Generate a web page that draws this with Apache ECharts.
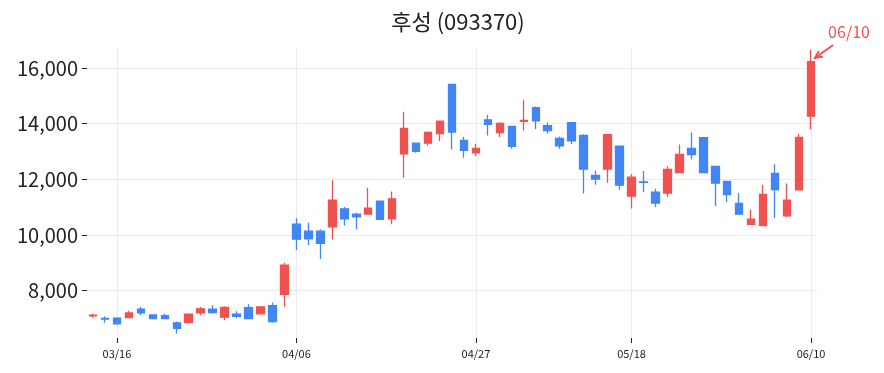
<!DOCTYPE html>
<html>
<head>
<meta charset="utf-8">
<script src="https://cdn.jsdelivr.net/npm/echarts@6/dist/echarts.min.js"></script>
<style>
  html, body { margin: 0; padding: 0; background: #fff; }
  #chart { width: 884px; height: 373px; }
</style>
</head>
<body>
<div id="chart"></div>
<script>
// ------------------------------------------------------------
// Data
// ------------------------------------------------------------
const dates = [
  "03/12", "03/13", "03/16", "03/17", "03/18", "03/19", "03/20", "03/23", "03/24", "03/25",
  "03/26", "03/27", "03/30", "03/31", "04/01", "04/02", "04/03", "04/06", "04/07", "04/08",
  "04/09", "04/10", "04/13", "04/14", "04/15", "04/16", "04/17", "04/20", "04/21", "04/22",
  "04/23", "04/24", "04/27", "04/28", "04/29", "04/30", "05/04", "05/06", "05/07", "05/08",
  "05/11", "05/12", "05/13", "05/14", "05/15", "05/18", "05/19", "05/20", "05/21", "05/22",
  "05/25", "05/26", "05/27", "05/28", "05/29", "06/01", "06/02", "06/03", "06/04", "06/05",
  "06/10",
];
const opens = [
  7100, 7000, 7010, 7030, 7340, 7130, 7100, 6840, 6850, 7200,
  7340, 7050, 7160, 7390, 7170, 7460, 7870, 10390, 10140, 10140,
  10290, 10940, 10750, 10750, 11220, 10580, 12920, 13300, 13300, 13640,
  15410, 13400, 12950, 14140, 13680, 13900, 14080, 14580, 13930, 13470,
  14040, 13580, 12140, 12370, 13190, 11400, 11910, 11540, 11510, 12240,
  13110, 13500, 12470, 11930, 11140, 10380, 10340, 12210, 10690, 11620,
  14270,
];
const closes = [
  7120, 6980, 6810, 7200, 7200, 7000, 7000, 6650, 7160, 7350,
  7210, 7400, 7080, 7000, 7420, 6890, 8920, 9850, 9860, 9700,
  11250, 10580, 10650, 10970, 10560, 11300, 13830, 13010, 13690, 14090,
  13700, 13040, 13110, 13980, 14010, 13190, 14120, 14100, 13750, 13200,
  13380, 12370, 12010, 13610, 11790, 12080, 11890, 11150, 12360, 12900,
  12890, 12240, 11870, 11450, 10750, 10570, 11460, 11630, 11250, 13510,
  16230,
];
const lows = [
  7030, 6850, 6780, 7030, 7120, 6980, 6990, 6460, 6840, 7120,
  7170, 6940, 7010, 6990, 7160, 6850, 7420, 9460, 9640, 9140,
  9840, 10340, 10210, 10740, 10540, 10390, 12060, 12960, 13210, 13380,
  13070, 12780, 12830, 13580, 13510, 13100, 13760, 13800, 13640, 13100,
  13270, 11490, 11810, 11880, 11630, 10950, 11540, 11010, 11370, 12240,
  12720, 12240, 11040, 11180, 10740, 10370, 10330, 10610, 10650, 11610,
  13800,
];
const highs = [
  7180, 7080, 7050, 7280, 7420, 7140, 7170, 6890, 7170, 7410,
  7480, 7440, 7260, 7510, 7440, 7580, 9000, 10600, 10450, 10200,
  11970, 11010, 10810, 11700, 11230, 11560, 14430, 13320, 13720, 14110,
  15430, 13520, 13280, 14320, 14050, 13910, 14860, 14620, 14040, 13540,
  14060, 13620, 12320, 13620, 13200, 12190, 12300, 11660, 12470, 13250,
  13680, 13510, 12480, 11940, 11510, 10920, 11810, 12540, 11850, 13640,
  16650,
];
const tickDates = ["03/16", "04/06", "04/27", "05/18", "06/10"];

const upColor = "#ef5350";
const downColor = "#4285f4";
const font = "Noto Sans CJK KR";

// ------------------------------------------------------------
// Chart
// ------------------------------------------------------------
const chart = echarts.init(document.getElementById("chart"));
const showTick = (index, value) => tickDates.includes(value);

chart.setOption({
  animation: false,
  textStyle: { fontFamily: font },
  title: {
    text: "후성 (093370)",
    left: 453,
    top: 6,
    textAlign: "center",
    textStyle: { fontFamily: font, fontSize: 22, fontWeight: "normal", color: "#222" },
  },
  grid: { left: 87, right: 67, top: 48, bottom: 35 },
  xAxis: {
    type: "category",
    data: dates,
    boundaryGap: true,
    axisLine: { show: false },
    axisTick: {
      show: true,
      alignWithLabel: true,
      interval: showTick,
      length: 5,
      lineStyle: { color: "#222" },
    },
    axisLabel: {
      interval: showTick,
      fontFamily: font,
      fontSize: 11,
      color: "#222",
      margin: 10,
    },
    splitLine: {
      show: true,
      alignWithLabel: true,
      interval: showTick,
      lineStyle: { color: "#ebebeb", width: 1 },
    },
  },
  yAxis: {
    type: "value",
    min: 6300,
    max: 16720,
    splitNumber: 5,
    axisLine: { show: false },
    axisTick: { show: true, length: 5, lineStyle: { color: "#222" } },
    axisLabel: {
      fontFamily: font,
      fontSize: 20,
      color: "#222",
      margin: 9,
      showMinLabel: false,
      showMaxLabel: false,
      formatter: (v) => v.toLocaleString("en-US"),
    },
    splitLine: {
      show: true,
      showMinLine: false,
      showMaxLine: false,
      lineStyle: { color: "#ebebeb", width: 1 },
    },
  },
  series: [
    {
      type: "candlestick",
      barWidth: 8,
      data: dates.map((d, i) => [opens[i], closes[i], lows[i], highs[i]]),
      itemStyle: {
        color: upColor,
        color0: downColor,
        borderColor: upColor,
        borderColor0: downColor,
        borderWidth: 1.3,
      },
    },
  ],
});

// annotation arrow pointing at the last candle
const last = dates.length - 1;
const [px, py] = chart.convertToPixel({ gridIndex: 0 }, [dates[last], highs[last]]);
const tip = [px + 4, py + 8];
const tail = [px + 22, py - 5];
const dx = tail[0] - tip[0];
const dy = tail[1] - tip[1];
const len = Math.hypot(dx, dy);
const ux = dx / len;
const uy = dy / len;
const headLen = 8;
const ang = 0.45;
const rot = (a) => [
  tip[0] + headLen * (ux * Math.cos(a) - uy * Math.sin(a)),
  tip[1] + headLen * (ux * Math.sin(a) + uy * Math.cos(a)),
];

chart.setOption({
  graphic: [
    {
      type: "line",
      shape: { x1: tail[0], y1: tail[1], x2: tip[0], y2: tip[1] },
      style: { stroke: upColor, lineWidth: 2 },
    },
    {
      type: "polyline",
      shape: { points: [rot(ang), tip, rot(-ang)] },
      style: { stroke: upColor, lineWidth: 2, fill: null },
    },
    {
      type: "text",
      x: px + 38,
      y: py - 18,
      style: {
        text: dates[last],
        fill: upColor,
        font: "16px '" + font + "'",
        align: "center",
        verticalAlign: "middle",
      },
    },
  ],
});
</script>
</body>
</html>
